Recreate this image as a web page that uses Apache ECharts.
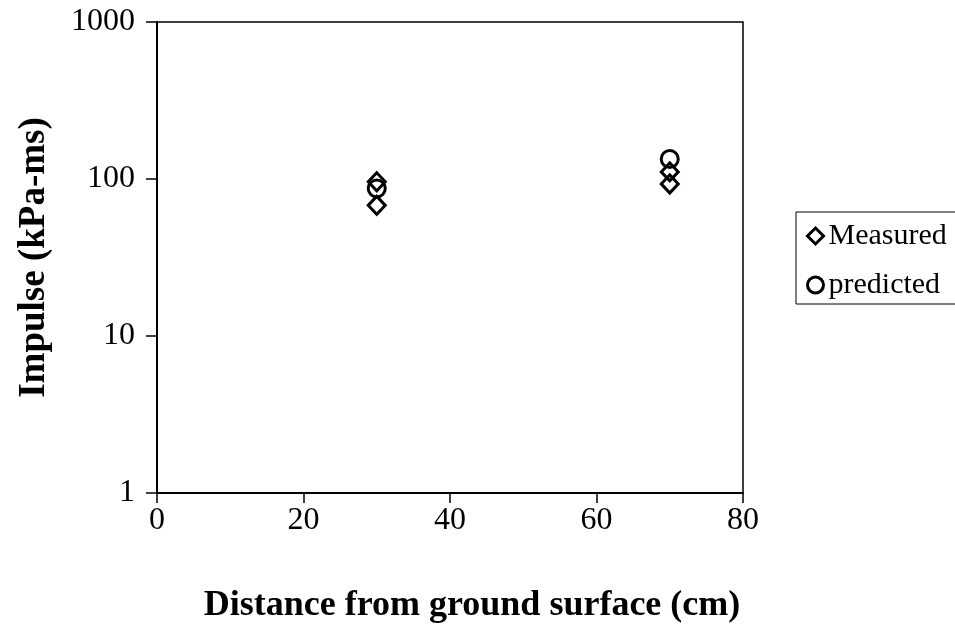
<!DOCTYPE html>
<html>
<head>
<meta charset="utf-8">
<script src="https://cdn.jsdelivr.net/npm/echarts@6/dist/echarts.min.js"></script>
<style>html,body{margin:0;padding:0;background:#fff}#c{width:955px;height:629px}</style>
</head>
<body>
<div id="c"></div>
<script>
const measuredX = [30, 30, 70, 70];
const measuredY = [96, 68, 111, 93];
const predictedX = [30, 70];
const predictedY = [87, 134];
const xTicks = [0, 20, 40, 60, 80];
const yTicks = [1, 10, 100, 1000];
const xTitle = 'Distance from ground surface (cm)';
const yTitle = 'Impulse (kPa-ms)';

const font = 'Liberation Serif, Times New Roman, serif';
const chart = echarts.init(document.getElementById('c'));
chart.setOption({
  animation: false,
  backgroundColor: '#fff',
  grid: {left: 157, right: 212, top: 22, bottom: 136, show: true, borderColor: '#000', borderWidth: 1.5, backgroundColor: 'transparent'},
  xAxis: {
    type: 'value', min: xTicks[0], max: xTicks[xTicks.length - 1], interval: 20,
    name: xTitle, nameLocation: 'middle', nameGap: 95,
    nameTextStyle: {fontFamily: font, fontSize: 36, fontWeight: 'bold', color: '#000', padding: [0, 0, 0, 44]},
    axisLine: {lineStyle: {color: '#000', width: 2}},
    axisTick: {show: true, inside: false, length: 10, lineStyle: {color: '#000', width: 1.5}},
    axisLabel: {fontFamily: font, fontSize: 32, color: '#000', margin: 12},
    splitLine: {show: false}
  },
  yAxis: {
    type: 'log', logBase: 10, min: yTicks[0], max: yTicks[yTicks.length - 1],
    name: yTitle, nameLocation: 'middle', nameGap: 104,
    nameTextStyle: {fontFamily: font, fontSize: 37, fontWeight: 'bold', color: '#000'},
    axisLine: {lineStyle: {color: '#000', width: 2}},
    axisTick: {show: true, inside: false, length: 11, lineStyle: {color: '#000', width: 1.5}},
    axisLabel: {fontFamily: font, fontSize: 32, color: '#000', margin: 22, formatter: v => String(v)},
    minorTick: {show: false},
    splitLine: {show: false}
  },
  legend: {
    orient: 'vertical', left: 796, top: 212,
    data: [{name: 'Measured', icon: 'diamond'}, {name: 'predicted', icon: 'circle'}],
    itemWidth: 16, itemHeight: 16, itemGap: 19,
    borderColor: '#000', borderWidth: 1, borderRadius: 0,
    padding: [9, 40, 4, 10],
    textStyle: {fontFamily: font, fontSize: 30, color: '#000'},
    itemStyle: {color: '#fff', borderColor: '#000', borderWidth: 3}
  },
  series: [
    {
      name: 'Measured', type: 'scatter', symbol: 'diamond', symbolSize: [17, 18],
      itemStyle: {color: 'rgba(255,255,255,0)', borderColor: '#000', borderWidth: 3, opacity: 1},
      data: measuredX.map((x, i) => [x, measuredY[i]])
    },
    {
      name: 'predicted', type: 'scatter', symbol: 'circle', symbolSize: 17,
      itemStyle: {color: 'rgba(255,255,255,0)', borderColor: '#000', borderWidth: 3, opacity: 1},
      data: predictedX.map((x, i) => [x, predictedY[i]])
    }
  ]
});
</script>
</body>
</html>
